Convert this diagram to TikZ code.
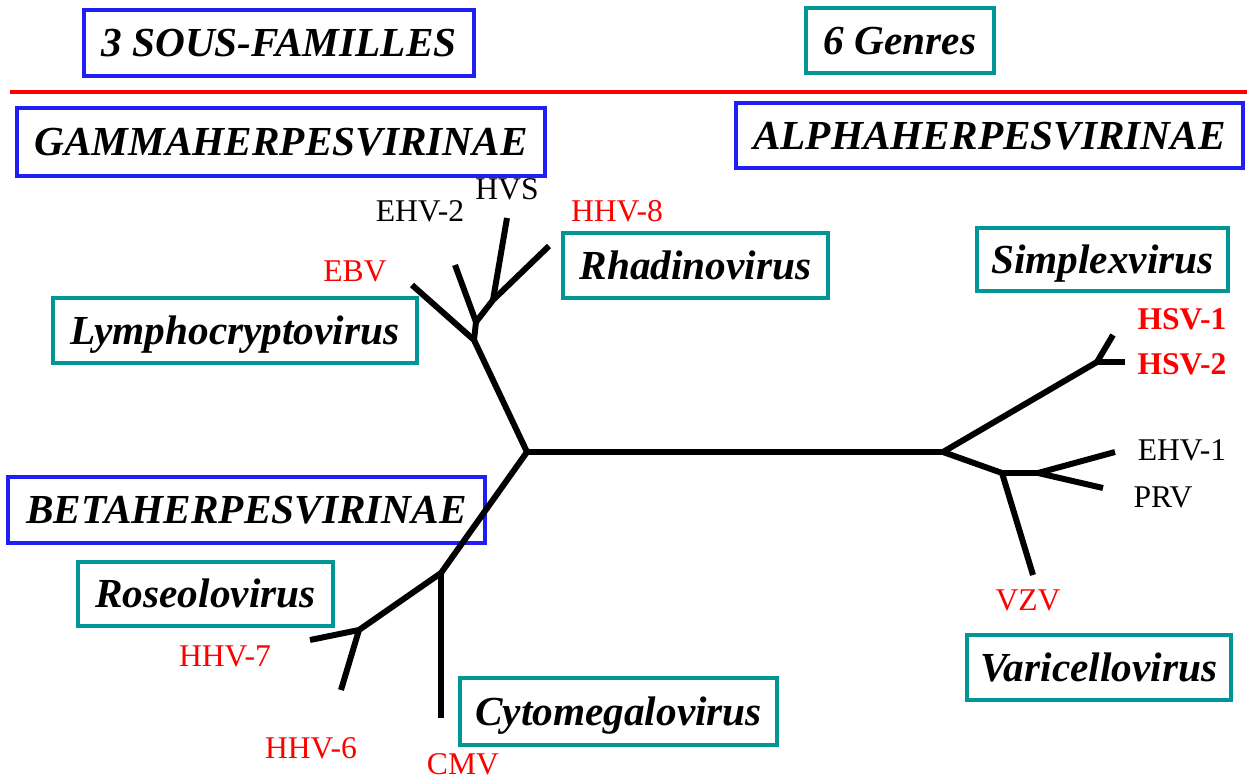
\documentclass[tikz,border=0pt]{standalone}
\usepackage{fontspec}
\setmainfont{Liberation Serif}
\definecolor{famblue}{RGB}{30,30,245}
\definecolor{genteal}{RGB}{0,150,150}

\begin{document}
\begin{tikzpicture}[x=0.02cm,y=-0.02cm,
  boite/.style={inner sep=0pt,text height=15.5pt,text depth=0pt,
    font=\fontsize{23.5}{28}\selectfont\bfseries\itshape},
  famille/.style={boite,draw=famblue,line width=2.6pt},
  genre/.style={boite,draw=genteal,line width=2pt},
  virus/.style={inner sep=0pt,font=\fontsize{18}{21}\selectfont},
  rouge/.style={virus,text=red},
  branche/.style={line width=3.4pt,line join=round}]
  \useasboundingbox (0,0) rectangle (1247,780);

  % en-tete
  \node[famille,minimum width=7.8cm,minimum height=1.32cm] (sousfam) at (279,43) {3 SOUS-FAMILLES};
  \node[genre,minimum width=3.76cm,minimum height=1.30cm] (genres) at (900,40.5) {6 Genres};
  \coordinate (sepG) at (10,92);
  \coordinate (sepD) at (1247,92);
  \draw[red,line width=2pt] (sepG) -- (sepD);

  % sous-familles
  \node[famille,minimum width=10.56cm,minimum height=1.36cm] (gamma) at (281,142) {GAMMAHERPESVIRINAE};
  \node[famille,minimum width=10.14cm,minimum height=1.30cm] (alpha) at (989.5,135.5) {ALPHAHERPESVIRINAE};
  \node[famille,minimum width=9.54cm,minimum height=1.32cm] (beta) at (246.5,510) {BETAHERPESVIRINAE};

  % genres
  \node[genre,minimum width=5.30cm,minimum height=1.30cm] (rhadino) at (695.5,265.5) {Rhadinovirus};
  \node[genre,minimum width=5.02cm,minimum height=1.26cm] (simplex) at (1102.5,259.5) {Simplexvirus};
  \node[genre,minimum width=7.28cm,minimum height=1.30cm] (lympho) at (235,330.5) {Lymphocryptovirus};
  \node[genre,minimum width=5.10cm,minimum height=1.28cm] (roseolo) at (205.5,594) {Roseolovirus};
  \node[genre,minimum width=6.34cm,minimum height=1.34cm] (cytomeg) at (618.5,711.5) {Cytomegalovirus};
  \node[genre,minimum width=5.28cm,minimum height=1.30cm] (varicello) at (1099,667.5) {Varicellovirus};

  % arbre
  \coordinate (G) at (527,452);
  \coordinate (A) at (943,452);
  \coordinate (G1) at (474,340);
  \coordinate (G2) at (476,322);
  \coordinate (G3) at (493,300);
  \coordinate (ebv) at (412,285);
  \coordinate (ehv2) at (455,265);
  \coordinate (hvs) at (507,218);
  \coordinate (hhv8) at (549,246);
  \coordinate (B1) at (441,573);
  \coordinate (B2) at (359,630);
  \coordinate (cmv) at (441,718);
  \coordinate (hhv7) at (310,640);
  \coordinate (hhv6) at (341,690);
  \coordinate (A1) at (1097,362);
  \coordinate (hsv1) at (1113,335);
  \coordinate (hsv2) at (1125,362);
  \coordinate (A2) at (1002,473);
  \coordinate (A3) at (1038,473);
  \coordinate (vzv) at (1033,575);
  \coordinate (ehv1) at (1115,452);
  \coordinate (prv) at (1103,488);

  \draw[branche] (G) -- (A);
  \draw[branche] (G) -- (G1);
  \draw[branche] (G1) -- (ebv);
  \draw[branche] (G1) -- (G2);
  \draw[branche] (G2) -- (ehv2);
  \draw[branche] (G2) -- (G3);
  \draw[branche] (G3) -- (hvs);
  \draw[branche] (G3) -- (hhv8);
  \draw[branche] (G) -- (B1);
  \draw[branche] (B1) -- (cmv);
  \draw[branche] (B1) -- (B2);
  \draw[branche] (B2) -- (hhv7);
  \draw[branche] (B2) -- (hhv6);
  \draw[branche] (A) -- (A1);
  \draw[branche] (A1) -- (hsv1);
  \draw[branche] (A1) -- (hsv2);
  \draw[branche] (A) -- (A2);
  \draw[branche] (A2) -- (vzv);
  \draw[branche] (A2) -- (A3);
  \draw[branche] (A3) -- (ehv1);
  \draw[branche] (A3) -- (prv);

  % virus
  \node[virus] (lHVS) at (507,189) {HVS};
  \node[virus] (lEHV2) at (420,211) {EHV-2};
  \node[rouge] (lHHV8) at (617,211) {HHV-8};
  \node[rouge] (lEBV) at (355,271) {EBV};
  \node[rouge,font=\fontsize{18}{21}\selectfont\bfseries] (lHSV1) at (1182,319) {HSV-1};
  \node[rouge,font=\fontsize{18}{21}\selectfont\bfseries] (lHSV2) at (1182,364) {HSV-2};
  \node[virus] (lEHV1) at (1182,450) {EHV-1};
  \node[virus] (lPRV) at (1163,497) {PRV};
  \node[rouge] (lVZV) at (1028,600) {VZV};
  \node[rouge] (lHHV7) at (225,656) {HHV-7};
  \node[rouge] (lHHV6) at (311,748) {HHV-6};
  \node[rouge] (lCMV) at (463,764) {CMV};
\end{tikzpicture}
\end{document}
